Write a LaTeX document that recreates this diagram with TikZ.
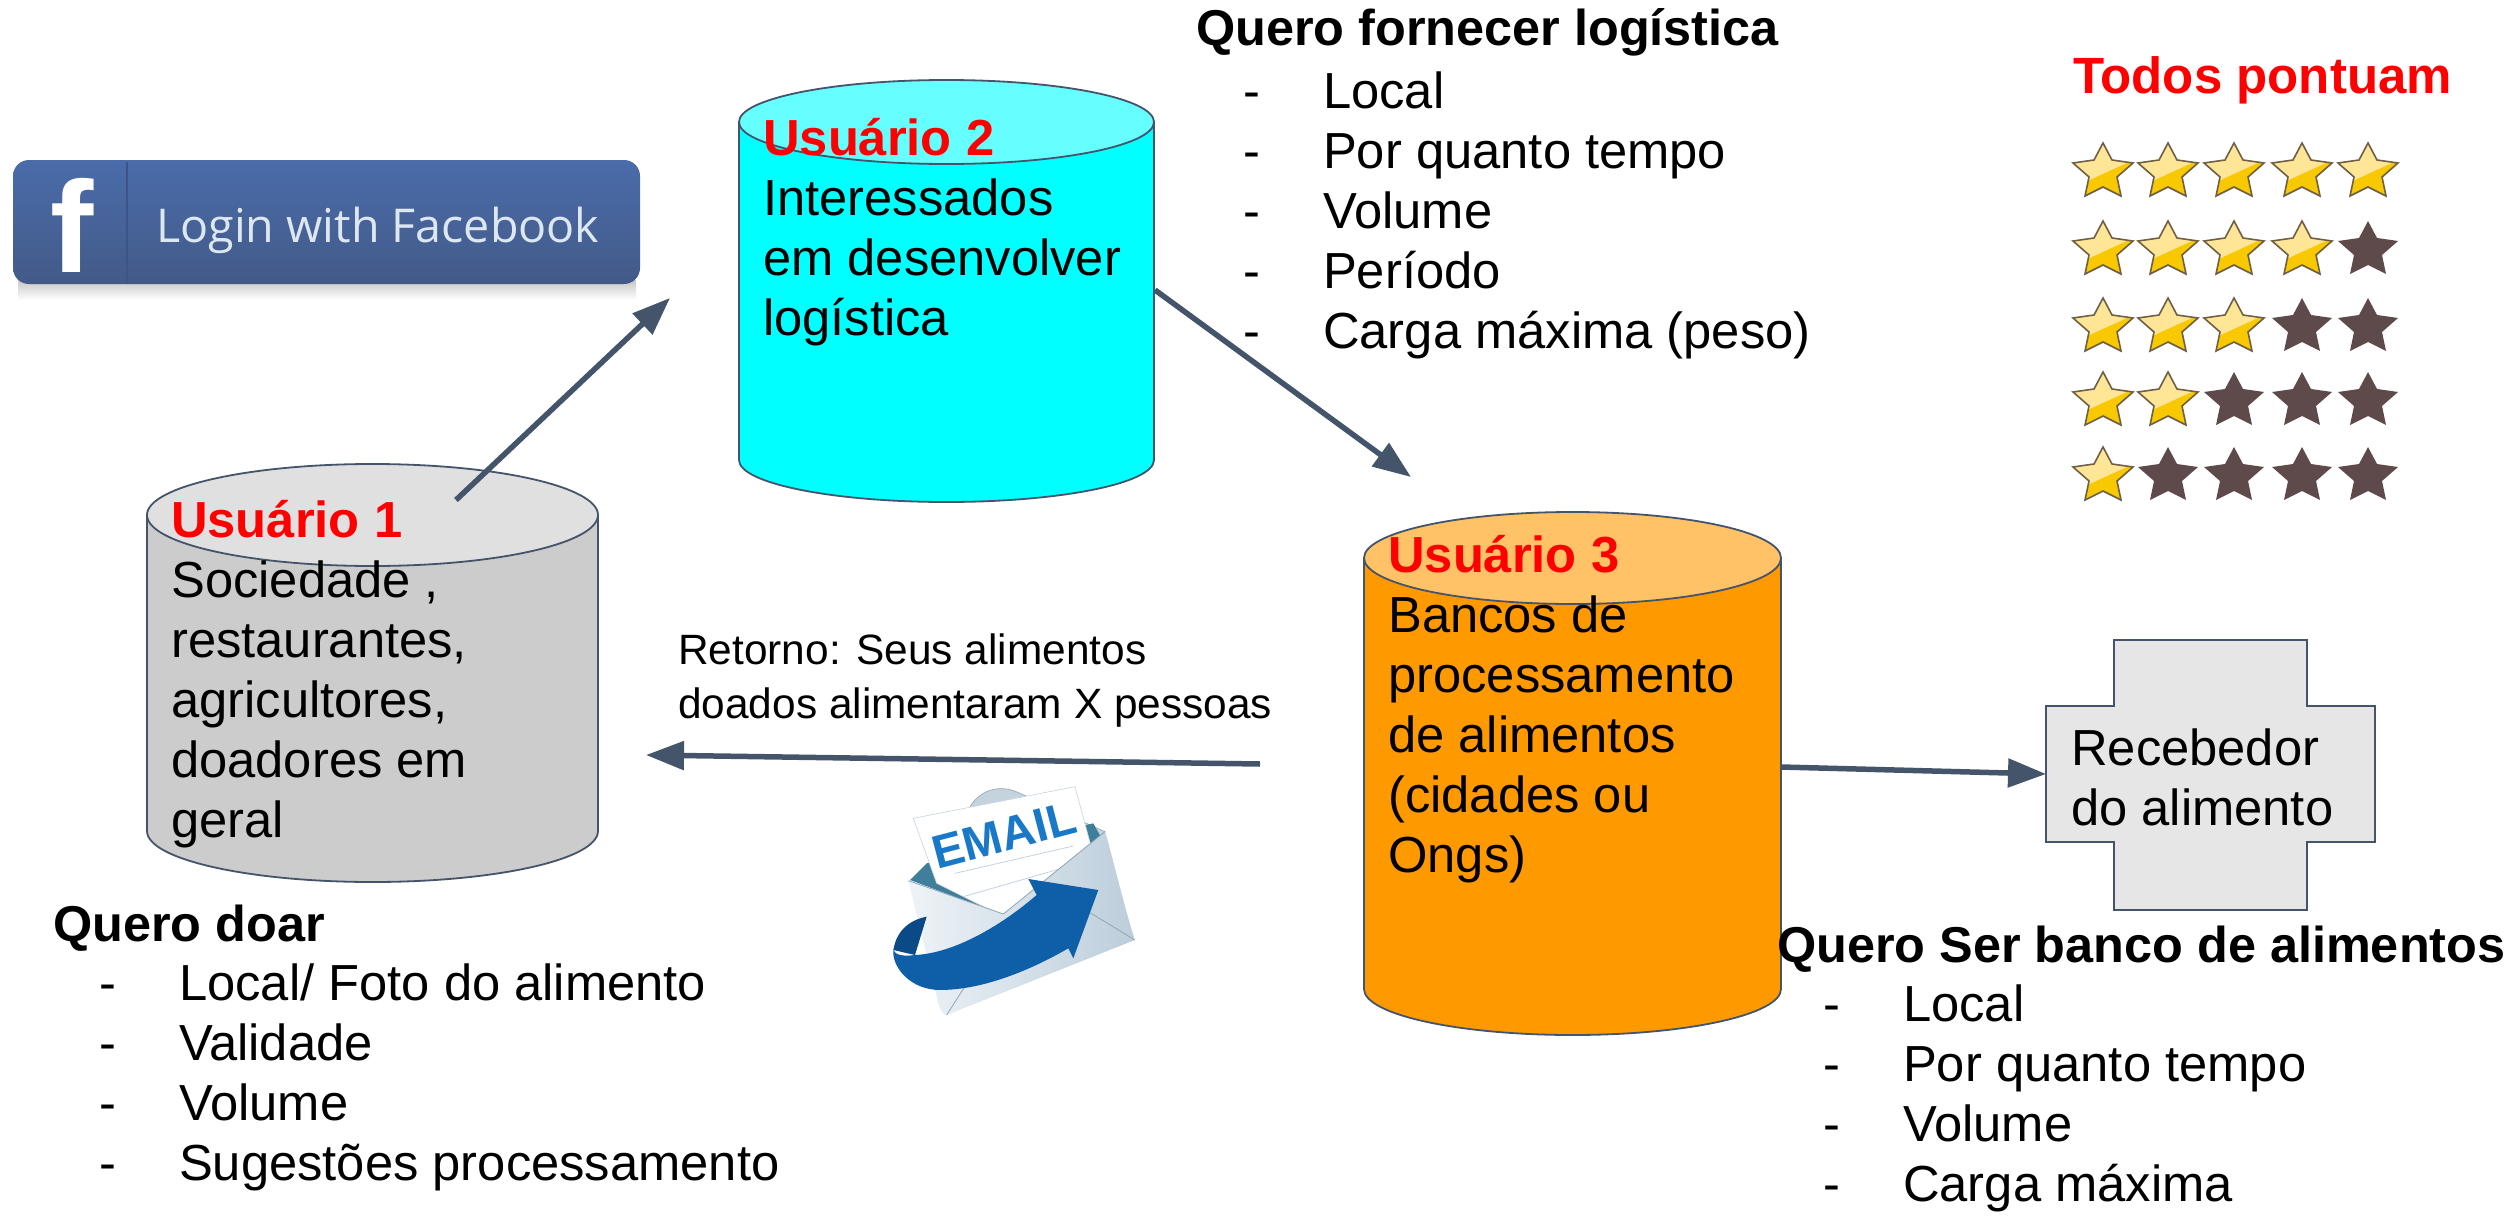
\documentclass[tikz,border=0pt]{standalone}
\usepackage{fontspec}
\setmainfont{Liberation Sans}
\newfontfamily\fbfont{Open Sans}
\usetikzlibrary{arrows.meta,shapes.geometric}
\definecolor{edgeblue}{HTML}{44546A}
\definecolor{goldlight}{HTML}{FFE596}
\definecolor{golddark}{HTML}{F8C800}
\definecolor{starline}{HTML}{6E5F45}
\definecolor{stardark}{HTML}{5F4A4B}
\definecolor{swoosh}{HTML}{0F5FA8}
\definecolor{swooshdark}{HTML}{0A4A86}
\definecolor{fbA}{HTML}{4A6CAA}
\definecolor{fbB}{HTML}{435A88}
\definecolor{fbC}{HTML}{3C5488}
\definecolor{fbT}{HTML}{DDE7F0}
\definecolor{cylA}{HTML}{CCCCCC}
\definecolor{cylAt}{HTML}{E0E0E0}
\definecolor{cylB}{HTML}{00FFFF}
\definecolor{cylBt}{HTML}{66FFFF}
\definecolor{cylC}{HTML}{FF9900}
\definecolor{cylCt}{HTML}{FFC266}
\definecolor{crossfill}{HTML}{E6E6E6}
\definecolor{envback}{HTML}{C5D3DE}
\definecolor{envline}{HTML}{8FA6B5}
\definecolor{envteal}{HTML}{3F7F9C}
\definecolor{emailblue}{HTML}{1A78C8}
\definecolor{envlight}{HTML}{EEF3F7}
\definecolor{envmid}{HTML}{BCCEDB}
\newcommand{\cyl}[8]{% x1,x2,top cy,bottom cy,ry,body,top colour,name
  \path[fill=#6,draw=edgeblue,line width=1.8pt]
    (#1,#3) -- (#1,#4) arc[x radius={(#2-#1)/2},y radius=#5,start angle=180,end angle=0]
    -- (#2,#3) -- cycle;
  \path[fill=#7,draw=edgeblue,line width=1.8pt]
    ({(#1+#2)/2},#3) ellipse[x radius={(#2-#1)/2},y radius=#5];
  \coordinate (#8) at ({(#1+#2)/2},{(#3+#4)/2});
}
\newcommand{\starpath}[2]{%
  (#1+0,#2-29) -- (#1+9,#2-12) -- (#1+30,#2-9) -- (#1+14,#2+5) -- (#1+18,#2+24)
  -- (#1,#2+15) -- (#1-18,#2+24) -- (#1-14,#2+5) -- (#1-30,#2-9) -- (#1-9,#2-12) -- cycle}
\newcommand{\goldstar}[2]{%
  \begin{scope}
    \clip \starpath{#1}{#2};
    \fill[goldlight] (#1-35,#2-35) rectangle (#1+35,#2+35);
    \fill[golddark] (#1-35,#2+18) -- (#1+35,#2-14) -- (#1+35,#2+35) -- (#1-35,#2+35) -- cycle;
  \end{scope}
  \draw[starline,line width=1.6pt,line join=miter] \starpath{#1}{#2};
}
\newcommand{\darkstar}[2]{\fill[stardark] \starpath{#1}{#2};}
\newcommand{\stk}[1]{\begin{tabular}[t]{@{}l@{}}#1\end{tabular}}
\newcommand{\itm}[1]{\makebox[80pt][l]{-}#1}
\newcommand{\rd}[1]{\textcolor{red}{\textbf{#1}}}
\tikzset{
  txt/.style={anchor=base west,inner sep=0pt,font=\fontsize{50.7}{60}\selectfont,text=black},
  head/.style={txt,font=\fontsize{50.4}{60}\selectfont\bfseries},
  small/.style={txt,font=\fontsize{42.4}{54}\selectfont},
  link/.style={draw=edgeblue,line width=5.5pt,-{Triangle[length=38pt,width=28pt]}},
}
\begin{document}
\begin{tikzpicture}[x=1pt,y=-1pt]
\useasboundingbox (0,0) rectangle (2507,1215);
\fill[white] (0,0) rectangle (2507,1215);

% Facebook button
\shade[top color=black!22,bottom color=white] (18,280) rectangle (636,300);
\path[rounded corners=16pt,top color=fbA,bottom color=fbB] (13,160) rectangle (640,284);
\draw[fbC,line width=1.5pt] (127,162) -- (127,282);
\node[anchor=base,inner sep=0pt,text=white,font=\fontsize{130}{130}\selectfont\bfseries] (fbf) at (72,272) {f};
\node[anchor=base west,inner sep=0pt,text=fbT,font=\fbfont\fontsize{46.6}{50}\selectfont] (fbt) at (156,242) {Login with Facebook};

% cylinders
\cyl{147}{598}{515}{831}{51}{cylA}{cylAt}{cylone}
\cyl{739}{1154}{122}{460}{42}{cylB}{cylBt}{cyltwo}
\cyl{1364}{1781}{558}{989}{46}{cylC}{cylCt}{cylthree}

% cross
\path[fill=crossfill,draw=edgeblue,line width=1.8pt]
  (2114,640) -- (2307,640) -- (2307,706) -- (2375,706) -- (2375,842) -- (2307,842)
  -- (2307,910) -- (2114,910) -- (2114,842) -- (2046,842) -- (2046,706) -- (2114,706) -- cycle;

% connector ends
\coordinate (aonestart) at (456,500);  \coordinate (aoneend) at (670,298);
\coordinate (atwostart) at (1155,290); \coordinate (atwoend) at (1411,477);
\coordinate (athreestart) at (1260,764); \coordinate (athreeend) at (646,755);
\coordinate (afourstart) at (1781,767); \coordinate (crosswest) at (2046,774);
\draw[link] (aonestart) -- (aoneend);
\draw[link] (atwostart) -- (atwoend);
\draw[link] (athreestart) -- (athreeend);
\draw[link] (afourstart) -- (crosswest);

% cylinder and cross texts
\node[txt] (tone) at (171,537) {\stk{\rd{Usuário 1}\\Sociedade ,\\restaurantes,\\agricultores,\\doadores em\\geral}};
\node[txt] (ttwo) at (763,155) {\stk{\rd{Usuário 2}\\Interessados\\em desenvolver\\logística}};
\node[txt] (tthree) at (1388,572) {\stk{\rd{Usuário 3}\\Bancos de\\processamento\\de alimentos\\(cidades ou\\Ongs)}};
\node[txt] (tcross) at (2071,765) {\stk{Recebedor\\do alimento}};

% lists
\node[head] (hlog) at (1196,46) {Quero fornecer logística};
\node[txt] (llog) at (1243,108) {\stk{\itm{Local}\\\itm{Por quanto tempo}\\\itm{Volume}\\\itm{Período}\\\itm{Carga máxima (peso)}}};
\node[head,text=red,font=\fontsize{51}{60}\selectfont\bfseries] (htodos) at (2073,93) {Todos pontuam};
\node[head] (hdoar) at (53,941) {Quero doar};
\node[txt] (ldoar) at (99,1000) {\stk{\itm{Local/ Foto do alimento}\\\itm{Validade}\\\itm{Volume}\\\itm{Sugestões processamento}}};
\node[head] (hbanco) at (1777,962) {Quero Ser banco de alimentos};
\node[txt] (lbanco) at (1823,1021) {\stk{\itm{Local}\\\itm{Por quanto tempo}\\\itm{Volume}\\\itm{Carga máxima}}};
\node[small] (tret) at (678,664) {\stk{Retorno: Seus alimentos\\doados alimentaram X pessoas}};

% stars
\foreach \yy/\n in {172/5,250/4,327/3,401/2,476/1}{
  \foreach \xx [count=\i] in {2103,2168,2234,2302,2368}{
    \ifnum\i>\n\relax \darkstar{\xx}{\yy}\else \goldstar{\xx}{\yy}\fi
  }
}

% email icon
\begin{scope}[shift={(860,760)},x=0.3333pt,y=-0.3333pt]
  \path[fill=envback,draw=envline,line width=0.6pt] (330,140) .. controls (360,90) and (420,70) .. (480,100) -- (735,215) -- (500,400) -- cycle;
  \fill[envteal] (150,360) -- (200,310) -- (700,190) -- (725,235) -- (430,465) -- cycle;
  \path[fill=white,draw=envback,line width=0.6pt] (160,175) -- (645,80) -- (715,340) -- (430,470) -- (230,370) -- cycle;
  \node[rotate=14.7,inner sep=0pt,text=emailblue,font=\fontsize{47}{47}\selectfont\bfseries] (emailt) at (432,225) {EMAIL};
  \draw[envback,line width=0.8pt] (285,340) -- (640,258);
  \draw[envback,line width=0.8pt] (310,410) -- (640,315);
  \path[left color=envlight,right color=envmid] (145,362) -- (430,462) -- (735,215) .. controls (745,240) and (800,470) .. (825,540) -- (260,765) .. controls (250,765) and (240,750) .. (235,730) -- cycle;
  \draw[envline,line width=0.8pt] (145,362) -- (430,462) -- (735,215);
  \draw[envline,line width=0.8pt] (825,540) -- (660,440);
  \draw[envline,line width=0.8pt] (260,765) -- (340,640);
  \fill[swooshdark] (100,570) .. controls (110,510) and (150,480) .. (200,470) -- (165,585) -- cycle;
  \fill[swoosh] (715,390) -- (505,357) -- (530,405) .. controls (420,500) and (280,580) .. (165,585) .. controls (130,590) and (105,585) .. (100,570)
    .. controls (95,620) and (150,690) .. (240,690) .. controls (380,690) and (530,620) .. (625,565) -- (640,595) -- cycle;
\end{scope}
\end{tikzpicture}
\end{document}
